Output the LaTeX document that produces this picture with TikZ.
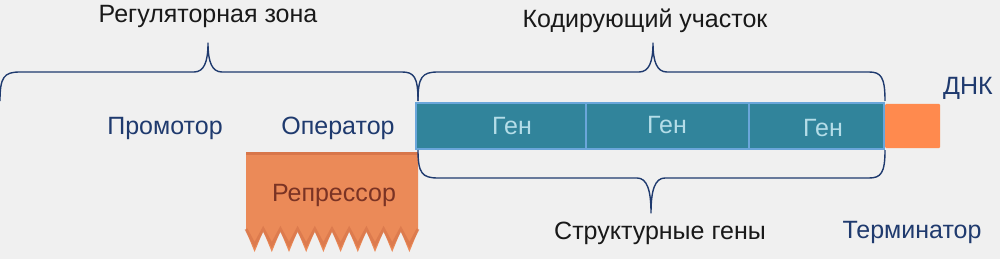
\documentclass[tikz,border=0pt]{standalone}
\usepackage{fontspec}
\setmainfont{Liberation Sans}
\definecolor{bg}{HTML}{F0F0F0}
\definecolor{brc}{HTML}{1F3A6E}
\definecolor{navy}{HTML}{1F3A6E}
\definecolor{genefill}{HTML}{31849B}
\definecolor{geneedge}{HTML}{6AA6DA}
\definecolor{genetxt}{HTML}{B4DDE8}
\definecolor{term}{HTML}{FF8A4E}
\definecolor{repfill}{HTML}{EB8A58}
\definecolor{repdark}{HTML}{D8764A}
\definecolor{reptxt}{HTML}{7A3324}
\begin{document}
\begin{tikzpicture}[x=1pt,y=-1pt,
  lbl/.style={font=\fontsize{25}{30}\selectfont, inner sep=0pt, anchor=base},
  blk/.style={lbl, text=black!90},
  blu/.style={lbl, text=navy},
  brace/.style={draw=brc, line width=1.4pt, line join=round},
  genebox/.style={draw=geneedge, line width=2pt, fill=genefill, minimum height=45pt, inner sep=0pt},
  genelbl/.style={lbl, text=genetxt}
]
\fill[bg] (0,0) rectangle (1000,259);
\useasboundingbox (0,0) rectangle (1000,259);

% labels
\node[blk] (reg) at (208,23) {Регуляторная зона};
\node[blk] (cod) at (645,28) {Кодирующий участок};
\node[blu] (prom) at (165,135) {Промотор};
\node[blu] (oper) at (338,135) {Оператор};
\node[blu] (dnk) at (968,95) {ДНК};
\node[blk] (str) at (660,239) {Структурные гены};
\node[blu] (termlbl) at (912,238) {Терминатор};

% repressor
\fill[repfill] (246,152) -- (418,152) -- (418,231)
  \foreach \i in {9,...,0} { -- ({246+\i*17.2+17.2},231) -- ({246+\i*17.2+8.6},252) -- ({246+\i*17.2},231) } -- cycle;
\draw[repdark, line width=3pt, line join=miter, opacity=0.7] (246,229)
  \foreach \i in {0,...,9} { -- ({246+\i*17.2+8.6},245) -- ({246+\i*17.2+17.2},229) };
\fill[repdark] (246,152) rectangle (418,155);
\node[lbl, text=reptxt] (rep) at (334,201) {Репрессор};

% gene bar
\node[genebox, minimum width=170pt] (g1) at (501,126) {};
\node[genebox, minimum width=163pt] (g2) at (667,126) {};
\node[genebox, minimum width=135pt] (g3) at (816.5,126) {};
\node[genelbl] (t1) at (512,135) {Ген};
\node[genelbl] (t2) at (667,133) {Ген};
\node[genelbl] (t3) at (823,136) {Ген};
\fill[term, rounded corners=1pt] (885,104) rectangle (940,148);

% braces
\draw[brace] (0,101) .. controls (0,77) and (4,72) .. (20,72) -- (194,72)
  .. controls (204,72) and (208,62) .. (208,43)
  .. controls (208,62) and (212,72) .. (222,72) -- (402,72)
  .. controls (414,72) and (418,77) .. (418,101);
\draw[brace] (418,101) .. controls (418,77) and (422,72) .. (438,72) -- (639,72)
  .. controls (649,72) and (653,62) .. (653,43)
  .. controls (653,62) and (657,72) .. (667,72) -- (869,72)
  .. controls (881,72) and (885,77) .. (885,101);
\draw[brace] (418,150) .. controls (418,173) and (422,178) .. (438,178) -- (637,178)
  .. controls (647,178) and (651,190) .. (651,213)
  .. controls (651,190) and (655,178) .. (665,178) -- (869,178)
  .. controls (881,178) and (885,173) .. (885,150);
\end{tikzpicture}
\end{document}
